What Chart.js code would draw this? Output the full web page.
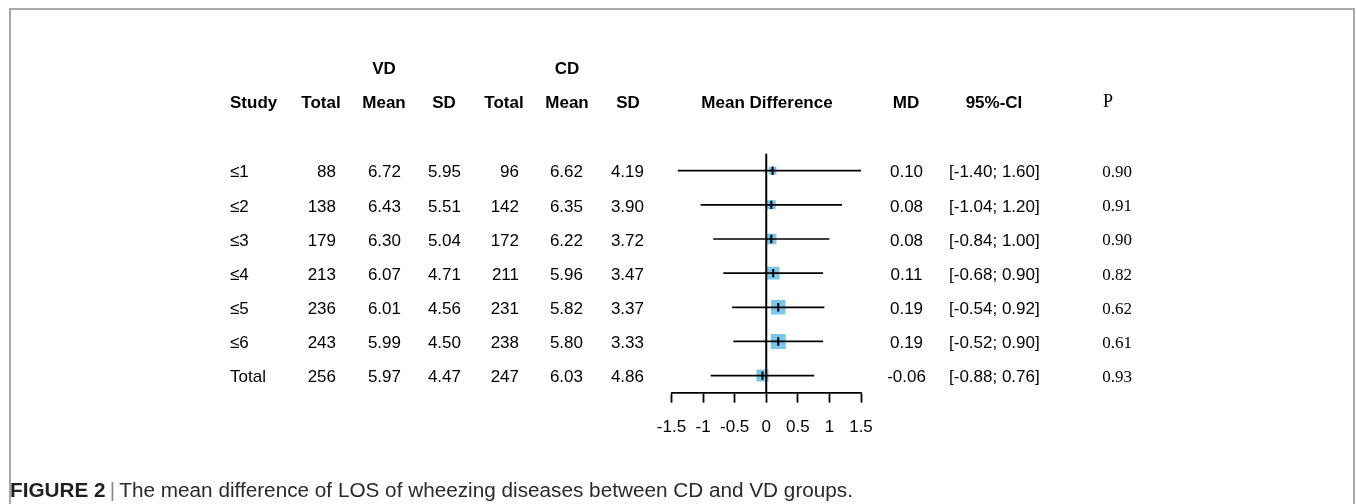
<!DOCTYPE html>
<html><head><meta charset="utf-8">
<script src="https://cdn.jsdelivr.net/npm/chart.js@4/dist/chart.umd.min.js"></script>
<style>
html,body{margin:0;padding:0;background:#fff;width:1357px;height:504px;overflow:hidden}
#frame{position:absolute;left:9px;top:8px;width:1346px;height:520px;border:2px solid #a8a8a8;border-bottom:none;box-sizing:border-box}
#c{position:absolute;left:0;top:0}
#cap{position:absolute;left:10px;top:479px;font-family:"Liberation Sans Narrow","Liberation Sans",Arial,sans-serif;font-size:20px;line-height:22px;color:#2a2a2a;white-space:nowrap;transform-origin:0 0}
#cap b{color:#231f20}
#cap .bar{color:#888;padding:0 4px}
</style></head><body>
<div id="frame"></div>
<canvas id="c" width="1357" height="504"></canvas>
<div id="cap"><b>FIGURE 2</b><span class="bar">|</span>The mean difference of LOS of wheezing diseases between CD and VD groups.</div>
<script>
// ---- data ----
const studies = ["≤1","≤2","≤3","≤4","≤5","≤6","Total"];
const vdTotal = [88,138,179,213,236,243,256];
const vdMean  = ["6.72","6.43","6.30","6.07","6.01","5.99","5.97"];
const vdSD    = ["5.95","5.51","5.04","4.71","4.56","4.50","4.47"];
const cdTotal = [96,142,172,211,231,238,247];
const cdMean  = ["6.62","6.35","6.22","5.96","5.82","5.80","6.03"];
const cdSD    = ["4.19","3.90","3.72","3.47","3.37","3.33","4.86"];
const md      = [0.10,0.08,0.08,0.11,0.19,0.19,-0.06];
const ciLow   = [-1.40,-1.04,-0.84,-0.68,-0.54,-0.52,-0.88];
const ciHigh  = [1.60,1.20,1.00,0.90,0.92,0.90,0.76];
const pValues = ["0.90","0.91","0.90","0.82","0.62","0.61","0.93"];
const weights = [5.9,8.1,10.6,16.1,21.0,22.5,14.4];
const xTicks  = [-1.5,-1,-0.5,0,0.5,1,1.5];
const groupLabels = ["VD","CD"];
const headers = ["Study","Total","Mean","SD","Total","Mean","SD","Mean Difference","MD","95%-CI","P"];

// ---- drawing ----
Chart.defaults.font.family = '"Liberation Sans", Arial, sans-serif';
const SANS = '"Liberation Sans", Arial, sans-serif';
const SERIF = '"Liberation Serif", "Times New Roman", serif';

const tablePlugin = {
  id: 'forestTable',
  afterDraw(chart) {
    const ctx = chart.ctx, ys = chart.scales.y;
    ctx.save();
    ctx.fillStyle = '#000';
    ctx.textBaseline = 'middle';
    ctx.font = 'bold 17px ' + SANS;
    ctx.textAlign = 'center';
    ctx.fillText(groupLabels[0], 384, 69);
    ctx.fillText(groupLabels[1], 567, 69);
    const hx = [230,321,384,444,504,567,628,767,906,994];
    headers.slice(0,10).forEach((h,i) => {
      ctx.textAlign = i === 0 ? 'left' : 'center';
      ctx.fillText(h, hx[i], 103);
    });
    ctx.font = '18px ' + SERIF;
    ctx.textAlign = 'center';
    ctx.fillText(headers[10], 1108, 102);
    studies.forEach((s,i) => {
      const y = ys.getPixelForValue(i) + 2;
      ctx.font = '17px ' + SANS;
      ctx.textAlign = 'left';  ctx.fillText(s, 230, y);
      ctx.textAlign = 'right';
      ctx.fillText(String(vdTotal[i]), 336, y);
      ctx.fillText(vdMean[i], 401, y);
      ctx.fillText(vdSD[i], 461, y);
      ctx.fillText(String(cdTotal[i]), 519, y);
      ctx.fillText(cdMean[i], 583, y);
      ctx.fillText(cdSD[i], 644, y);
      ctx.textAlign = 'center';
      ctx.fillText(md[i].toFixed(2), 906.5, y);
      ctx.textAlign = 'left';
      ctx.fillText('[' + ciLow[i].toFixed(2) + '; ' + ciHigh[i].toFixed(2) + ']', 949, y);
      ctx.font = '17px ' + SERIF;
      ctx.textAlign = 'center';
      ctx.fillText(pValues[i], 1117, y);
    });
    ctx.restore();
  }
};

const ciSets = studies.map((s,i) => ({
  type: 'line', label: 'CI ' + s,
  data: [{x: ciLow[i], y: i}, {x: ciHigh[i], y: i}],
  borderColor: '#000', borderWidth: 1.7, pointRadius: 0, order: 3
}));

new Chart(document.getElementById('c'), {
  type: 'scatter',
  data: {
    datasets: [
      { type: 'scatter', label: 'MD mark',
        data: md.map((v,i) => ({x: v, y: i})),
        pointStyle: 'line', pointRotation: 90, pointRadius: 4.2, pointHoverRadius: 4.2,
        pointBorderColor: '#000', pointBorderWidth: 2, order: 1 },
      { type: 'line', label: 'zero',
        data: [{x: 0, y: -0.5}, {x: 0, y: 6.5}],
        borderColor: '#000', borderWidth: 2, pointRadius: 0, order: 2 },
      ...ciSets,
      { type: 'scatter', label: 'weight',
        data: md.map((v,i) => ({x: v, y: i})),
        pointStyle: 'rect',
        pointRadius: weights.map(w => Math.sqrt(w) * 3.16 / 1.414),
        pointHoverRadius: weights.map(w => Math.sqrt(w) * 3.16 / 1.414),
        pointBackgroundColor: '#7cc6e7', pointBorderWidth: 0, order: 5 }
    ]
  },
  options: {
    responsive: false, animation: false, devicePixelRatio: 1, events: [],
    layout: { padding: { left: 671.5, right: 496, top: 153.6, bottom: 52.9 } },
    plugins: { legend: { display: false }, tooltip: { enabled: false } },
    scales: {
      x: {
        type: 'linear', min: -1.5, max: 1.5,
        afterBuildTicks: sc => { sc.ticks = xTicks.map(v => ({value: v})); },
        ticks: { color: '#000', font: { size: 17 }, padding: 14, maxRotation: 0, minRotation: 0, autoSkip: false, callback: v => String(v) },
        grid: { drawOnChartArea: false, drawTicks: true, tickLength: 10, color: '#000', tickWidth: 1.8 },
        border: { display: true, color: '#000', width: 1.8 }
      },
      y: { type: 'linear', min: -0.5, max: 6.5, reverse: true, display: false }
    }
  },
  plugins: [tablePlugin]
});

function fitCap(){
  const cap = document.getElementById('cap');
  cap.style.transform = 'none';
  const w = cap.getBoundingClientRect().width;
  cap.style.transform = 'scaleX(' + (843 / w) + ')';
}
fitCap();
if (document.fonts && document.fonts.ready) document.fonts.ready.then(fitCap);
</script>
</body></html>
